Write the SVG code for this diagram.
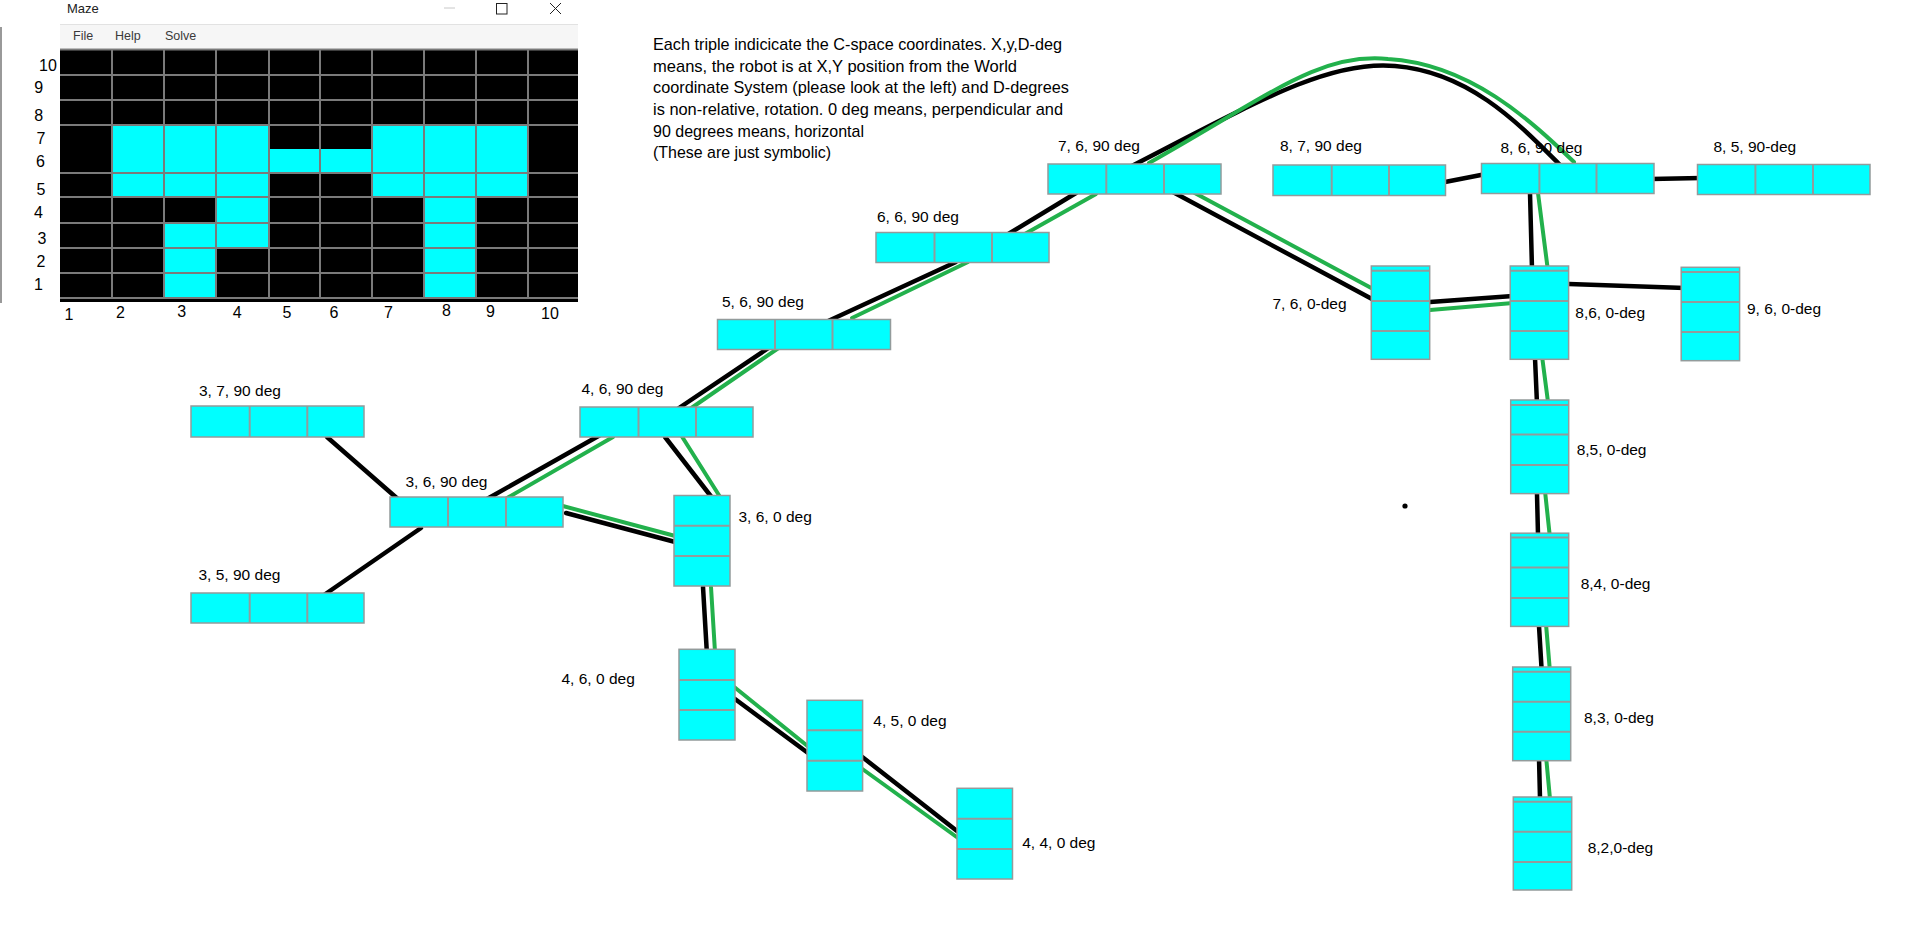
<svg xmlns="http://www.w3.org/2000/svg" width="1914" height="943" viewBox="0 0 1914 943">
<style>
.bg{fill:#ffffff}
.box{fill:#00ffff;stroke:#939b9b;stroke-width:1.5}
.dv{stroke:#939b9b;stroke-width:2}
.lbl{font-family:"Liberation Sans",Arial,sans-serif;font-size:15.5px;fill:#000}
.note{font-family:"Liberation Sans",Arial,sans-serif;font-size:16.2px;fill:#000}
.gl{stroke:#7a7a7a;stroke-width:2}
.ax{font-family:"Liberation Sans",Arial,sans-serif;font-size:16px;fill:#000;text-anchor:middle}
.menu{font-family:"Liberation Sans",Arial,sans-serif;font-size:12.5px;fill:#3a3a3a}
.bk{stroke:#000;stroke-width:4.5;stroke-linecap:round;fill:none}
.gr{stroke:#22b14c;stroke-width:4;stroke-linecap:round;fill:none}
</style>
<rect class="bg" x="0" y="0" width="1914" height="943"/>

<!-- Maze window -->
<g id="maze-window">
  <line x1="1" y1="27" x2="1" y2="303" stroke="#777" stroke-width="1.5"/>
  <text x="67" y="13" font-family="'Liberation Sans',Arial,sans-serif" font-size="13" fill="#222">Maze</text>
  <line x1="444" y1="8" x2="455" y2="8" stroke="#c8c8c8" stroke-width="1"/>
  <rect x="496.5" y="3.5" width="10.5" height="10.5" fill="none" stroke="#222" stroke-width="1"/>
  <path d="M550,3 L561,14 M561,3 L550,14" stroke="#222" stroke-width="1" fill="none"/>
  <rect x="60" y="24" width="518" height="24" fill="#f6f6f6"/>
  <line x1="60" y1="24.5" x2="578" y2="24.5" stroke="#e2e2e2" stroke-width="1"/>
  <text class="menu" x="73" y="40">File</text>
  <text class="menu" x="115" y="40">Help</text>
  <text class="menu" x="165" y="40">Solve</text>
  <rect x="60" y="49" width="518" height="253" fill="#000"/>
  <g fill="#00ffff">
    <rect x="112" y="125" width="157" height="72"/>
    <rect x="269" y="149" width="103" height="24"/>
    <rect x="372" y="125" width="156" height="72"/>
    <rect x="216" y="197" width="53" height="51"/>
    <rect x="164" y="223" width="52" height="75"/>
    <rect x="424" y="197" width="52" height="101"/>
  </g>
  <g class="gl">
    <line x1="60" y1="49.5" x2="578" y2="49.5"/>
    <line x1="60" y1="75" x2="578" y2="75"/>
    <line x1="60" y1="100" x2="578" y2="100"/>
    <line x1="60" y1="125" x2="578" y2="125"/>
    <line x1="60" y1="173" x2="578" y2="173"/>
    <line x1="60" y1="197" x2="578" y2="197"/>
    <line x1="60" y1="223" x2="578" y2="223"/>
    <line x1="60" y1="248" x2="578" y2="248"/>
    <line x1="60" y1="273" x2="578" y2="273"/>
    <line x1="60" y1="298" x2="578" y2="298"/>
    <line x1="112" y1="49" x2="112" y2="298"/>
    <line x1="164" y1="49" x2="164" y2="298"/>
    <line x1="216" y1="49" x2="216" y2="298"/>
    <line x1="269" y1="49" x2="269" y2="298"/>
    <line x1="320" y1="49" x2="320" y2="298"/>
    <line x1="372" y1="49" x2="372" y2="298"/>
    <line x1="424" y1="49" x2="424" y2="298"/>
    <line x1="476" y1="49" x2="476" y2="298"/>
    <line x1="528" y1="49" x2="528" y2="298"/>
  </g>
  <g class="ax">
    <text x="48" y="70.7">10</text>
    <text x="38.8" y="92.7">9</text>
    <text x="38.8" y="120.5">8</text>
    <text x="41" y="144">7</text>
    <text x="40.5" y="166.5">6</text>
    <text x="41" y="195">5</text>
    <text x="38.5" y="218">4</text>
    <text x="42" y="244">3</text>
    <text x="41" y="266.5">2</text>
    <text x="38.5" y="290">1</text>
    <text x="69" y="320">1</text>
    <text x="120.5" y="318.3">2</text>
    <text x="181.7" y="316.7">3</text>
    <text x="237.3" y="318.3">4</text>
    <text x="287" y="318">5</text>
    <text x="334" y="318">6</text>
    <text x="388.5" y="318.3">7</text>
    <text x="446.5" y="315.5">8</text>
    <text x="490.5" y="317">9</text>
    <text x="550" y="319">10</text>
  </g>
</g>

<!-- Explanatory note -->
<g id="note">
  <text class="note" x="653" y="50" textLength="409" lengthAdjust="spacingAndGlyphs">Each triple indicicate the C-space coordinates. X,y,D-deg</text>
  <text class="note" x="653" y="71.7" textLength="364" lengthAdjust="spacingAndGlyphs">means, the robot is at X,Y position from the World</text>
  <text class="note" x="653" y="93.3" textLength="416" lengthAdjust="spacingAndGlyphs">coordinate System (please look at the left) and D-degrees</text>
  <text class="note" x="653" y="115" textLength="410" lengthAdjust="spacingAndGlyphs">is non-relative, rotation. 0 deg means, perpendicular and</text>
  <text class="note" x="653" y="136.7" textLength="211" lengthAdjust="spacingAndGlyphs">90 degrees means, horizontal</text>
  <text class="note" x="653" y="158.3" textLength="178" lengthAdjust="spacingAndGlyphs">(These are just symbolic)</text>
</g>

<!-- Connectors -->
<g id="connectors">
  <line class="bk" x1="327" y1="437" x2="399" y2="500"/>
  <line class="bk" x1="421" y1="528" x2="324" y2="595"/>
  <line class="bk" x1="487" y1="499" x2="602" y2="434"/>
  <line class="gr" x1="502" y1="501" x2="613" y2="437"/>
  <line class="gr" x1="559" y1="505" x2="679" y2="537"/>
  <line class="bk" x1="566" y1="513" x2="679" y2="543"/>
  <line class="bk" x1="665" y1="437" x2="713" y2="499"/>
  <line class="gr" x1="681" y1="435" x2="722" y2="500"/>
  <line class="bk" x1="676" y1="410" x2="770" y2="347"/>
  <line class="gr" x1="687" y1="411" x2="780" y2="347"/>
  <line class="bk" x1="826" y1="322" x2="956" y2="262"/>
  <line class="gr" x1="852" y1="318" x2="968" y2="262"/>
  <line class="bk" x1="1005" y1="236" x2="1076" y2="193"/>
  <line class="gr" x1="1023" y1="235" x2="1096" y2="194"/>
  <path class="bk" d="M1130,167 C1260,100 1330,60 1395,66 C1470,72 1520,125 1560,165"/>
  <path class="gr" d="M1149,163 C1270,95 1320,52 1388,59 C1470,64 1530,120 1574,162"/>
  <line class="bk" x1="1171" y1="191" x2="1372" y2="299"/>
  <line class="gr" x1="1191" y1="191" x2="1375" y2="290"/>
  <line class="bk" x1="1445" y1="182" x2="1486" y2="174"/>
  <line class="bk" x1="1651" y1="179" x2="1701" y2="178"/>
  <line class="bk" x1="1530" y1="193" x2="1532" y2="269"/>
  <line class="gr" x1="1538" y1="193" x2="1548" y2="271"/>
  <line class="bk" x1="1430" y1="302" x2="1513" y2="296"/>
  <line class="gr" x1="1430" y1="310" x2="1513" y2="303"/>
  <line class="bk" x1="1569" y1="284" x2="1685" y2="288"/>
  <line class="bk" x1="1535" y1="358" x2="1537" y2="404"/>
  <line class="gr" x1="1542" y1="356" x2="1548" y2="402"/>
  <line class="bk" x1="1537" y1="494" x2="1538" y2="535"/>
  <line class="gr" x1="1545" y1="491" x2="1550" y2="538"/>
  <line class="bk" x1="1539" y1="626" x2="1542" y2="676"/>
  <line class="gr" x1="1546" y1="624" x2="1550" y2="672"/>
  <line class="bk" x1="1539" y1="758" x2="1540" y2="798"/>
  <line class="gr" x1="1546" y1="756" x2="1550" y2="799"/>
  <line class="bk" x1="703" y1="587" x2="707" y2="655"/>
  <line class="gr" x1="711" y1="587" x2="715" y2="652"/>
  <line class="gr" x1="733" y1="686" x2="810" y2="748"/>
  <line class="bk" x1="735" y1="699" x2="808" y2="753"/>
  <line class="bk" x1="861" y1="756" x2="957" y2="831"/>
  <line class="gr" x1="861" y1="768" x2="958" y2="838"/>
</g>

<!-- Horizontal (90 deg) nodes -->
<g id="n-3-7-90">
  <rect class="box" x="191" y="406" width="173" height="31"/>
  <line class="dv" x1="249.7" y1="406" x2="249.7" y2="437"/><line class="dv" x1="307.3" y1="406" x2="307.3" y2="437"/>
  <text class="lbl" x="199" y="396">3, 7, 90 deg</text>
</g>
<g id="n-3-5-90">
  <rect class="box" x="191" y="593" width="173" height="30"/>
  <line class="dv" x1="249.7" y1="593" x2="249.7" y2="623"/><line class="dv" x1="307.3" y1="593" x2="307.3" y2="623"/>
  <text class="lbl" x="198.5" y="580">3, 5, 90 deg</text>
</g>
<g id="n-3-6-90">
  <rect class="box" x="390" y="497" width="173" height="30"/>
  <line class="dv" x1="448" y1="497" x2="448" y2="527"/><line class="dv" x1="506" y1="497" x2="506" y2="527"/>
  <text class="lbl" x="405.5" y="487">3, 6, 90 deg</text>
</g>
<g id="n-4-6-90">
  <rect class="box" x="580" y="407" width="173" height="30"/>
  <line class="dv" x1="638.5" y1="407" x2="638.5" y2="437"/><line class="dv" x1="696" y1="407" x2="696" y2="437"/>
  <text class="lbl" x="581.5" y="394">4, 6, 90 deg</text>
</g>
<g id="n-5-6-90">
  <rect class="box" x="717.5" y="319.5" width="173" height="30"/>
  <line class="dv" x1="775" y1="319.5" x2="775" y2="349.5"/><line class="dv" x1="832.5" y1="319.5" x2="832.5" y2="349.5"/>
  <text class="lbl" x="722" y="307">5, 6, 90 deg</text>
</g>
<g id="n-6-6-90">
  <rect class="box" x="876" y="232.5" width="173" height="30"/>
  <line class="dv" x1="934.5" y1="232.5" x2="934.5" y2="262.5"/><line class="dv" x1="992" y1="232.5" x2="992" y2="262.5"/>
  <text class="lbl" x="877" y="222">6, 6, 90 deg</text>
</g>
<g id="n-7-6-90">
  <rect class="box" x="1048" y="164" width="173" height="30"/>
  <line class="dv" x1="1106.3" y1="164" x2="1106.3" y2="194"/><line class="dv" x1="1164" y1="164" x2="1164" y2="194"/>
  <text class="lbl" x="1058" y="151">7, 6, 90 deg</text>
</g>
<g id="n-8-7-90">
  <rect class="box" x="1273" y="165" width="172.5" height="30.5"/>
  <line class="dv" x1="1331.7" y1="165" x2="1331.7" y2="195.5"/><line class="dv" x1="1389" y1="165" x2="1389" y2="195.5"/>
  <text class="lbl" x="1280" y="151">8, 7, 90 deg</text>
</g>
<g id="n-8-6-90">
  <text class="lbl" x="1500.5" y="153">8, 6, 90 deg</text>
  <rect class="box" x="1481.5" y="163.5" width="172.5" height="30"/>
  <line class="dv" x1="1539.4" y1="163.5" x2="1539.4" y2="193.5"/><line class="dv" x1="1596.5" y1="163.5" x2="1596.5" y2="193.5"/>
</g>
<g id="n-8-5-90">
  <rect class="box" x="1697.5" y="164.5" width="172.5" height="30"/>
  <line class="dv" x1="1755.4" y1="164.5" x2="1755.4" y2="194.5"/><line class="dv" x1="1813" y1="164.5" x2="1813" y2="194.5"/>
  <text class="lbl" x="1713.5" y="152">8, 5, 90-deg</text>
</g>

<!-- Vertical (0 deg) nodes -->
<g id="n-3-6-0">
  <rect class="box" x="674" y="495.5" width="56" height="90.5"/>
  <line class="dv" x1="674" y1="525.7" x2="730" y2="525.7"/><line class="dv" x1="674" y1="556" x2="730" y2="556"/>
  <text class="lbl" x="738.5" y="521.5">3, 6, 0 deg</text>
</g>
<g id="n-4-6-0">
  <rect class="box" x="679" y="649.3" width="56" height="90.7"/>
  <line class="dv" x1="679" y1="680" x2="735" y2="680"/><line class="dv" x1="679" y1="710" x2="735" y2="710"/>
  <text class="lbl" x="561.5" y="684">4, 6, 0 deg</text>
</g>
<g id="n-4-5-0">
  <rect class="box" x="807" y="700.3" width="55.6" height="90.7"/>
  <line class="dv" x1="807" y1="730.3" x2="862.6" y2="730.3"/><line class="dv" x1="807" y1="760.7" x2="862.6" y2="760.7"/>
  <text class="lbl" x="873.3" y="725.5">4, 5, 0 deg</text>
</g>
<g id="n-4-4-0">
  <rect class="box" x="957" y="788.3" width="55.5" height="90.7"/>
  <line class="dv" x1="957" y1="818.7" x2="1012.5" y2="818.7"/><line class="dv" x1="957" y1="849" x2="1012.5" y2="849"/>
  <text class="lbl" x="1022.2" y="848">4, 4, 0 deg</text>
</g>
<g id="n-7-6-0">
  <rect class="box" x="1371.3" y="266" width="58.4" height="93.3"/>
  <line class="dv" x1="1371.3" y1="270.7" x2="1429.7" y2="270.7"/><line class="dv" x1="1371.3" y1="301" x2="1429.7" y2="301"/><line class="dv" x1="1371.3" y1="331" x2="1429.7" y2="331"/>
  <text class="lbl" x="1272.5" y="309">7, 6, 0-deg</text>
</g>
<g id="n-8-6-0">
  <rect class="box" x="1510.2" y="266" width="58.4" height="93.3"/>
  <line class="dv" x1="1510.2" y1="270.7" x2="1568.6" y2="270.7"/><line class="dv" x1="1510.2" y1="301" x2="1568.6" y2="301"/><line class="dv" x1="1510.2" y1="331" x2="1568.6" y2="331"/>
  <text class="lbl" x="1575.3" y="318">8,6, 0-deg</text>
</g>
<g id="n-9-6-0">
  <rect class="box" x="1681.2" y="267.3" width="58.4" height="93.4"/>
  <line class="dv" x1="1681.2" y1="272" x2="1739.6" y2="272"/><line class="dv" x1="1681.2" y1="302" x2="1739.6" y2="302"/><line class="dv" x1="1681.2" y1="332" x2="1739.6" y2="332"/>
  <text class="lbl" x="1747" y="314">9, 6, 0-deg</text>
</g>
<g id="n-8-5-0">
  <rect class="box" x="1510.7" y="400" width="58" height="93.6"/>
  <line class="dv" x1="1510.7" y1="405" x2="1568.7" y2="405"/><line class="dv" x1="1510.7" y1="434.6" x2="1568.7" y2="434.6"/><line class="dv" x1="1510.7" y1="465" x2="1568.7" y2="465"/>
  <text class="lbl" x="1576.7" y="455">8,5, 0-deg</text>
</g>
<g id="n-8-4-0">
  <rect class="box" x="1510.7" y="533.2" width="58" height="93.2"/>
  <line class="dv" x1="1510.7" y1="537.5" x2="1568.7" y2="537.5"/><line class="dv" x1="1510.7" y1="567.5" x2="1568.7" y2="567.5"/><line class="dv" x1="1510.7" y1="598" x2="1568.7" y2="598"/>
  <text class="lbl" x="1580.7" y="589">8,4, 0-deg</text>
</g>
<g id="n-8-3-0">
  <rect class="box" x="1512.7" y="667" width="58" height="93.7"/>
  <line class="dv" x1="1512.7" y1="671.8" x2="1570.7" y2="671.8"/><line class="dv" x1="1512.7" y1="701.8" x2="1570.7" y2="701.8"/><line class="dv" x1="1512.7" y1="731.8" x2="1570.7" y2="731.8"/>
  <text class="lbl" x="1584" y="723">8,3, 0-deg</text>
</g>
<g id="n-8-2-0">
  <rect class="box" x="1513.3" y="797" width="58.4" height="93"/>
  <line class="dv" x1="1513.3" y1="801.8" x2="1571.7" y2="801.8"/><line class="dv" x1="1513.3" y1="831.8" x2="1571.7" y2="831.8"/><line class="dv" x1="1513.3" y1="862" x2="1571.7" y2="862"/>
  <text class="lbl" x="1587.7" y="853">8,2,0-deg</text>
</g>

<circle cx="1405" cy="506" r="2.6" fill="#000"/>
</svg>
